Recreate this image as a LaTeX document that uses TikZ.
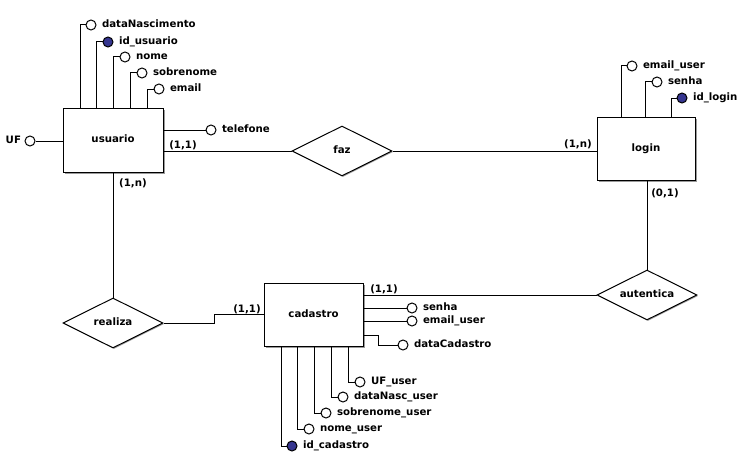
\documentclass[tikz,border=0pt]{standalone}
\usepackage{fontspec}
\setmainfont{DejaVu Sans}
\usetikzlibrary{shapes.geometric,shadows,calc}
\definecolor{keyblue}{HTML}{35358F}
\definecolor{shadowgray}{HTML}{9A9A9A}
\tikzset{
  every picture/.style={line width=1pt},
  txt/.style={font=\bfseries\fontsize{10.2}{12}\selectfont, inner sep=0pt, text height=7.5pt, text depth=2pt},
  entity/.style={draw, fill=white, rectangle, inner sep=0pt, txt,
    drop shadow={shadow xshift=1.6pt, shadow yshift=-1.6pt, opacity=1, fill=shadowgray}},
  relation/.style={draw, fill=white, diamond, aspect=2, inner sep=0pt, txt,
    minimum width=100pt, minimum height=50pt,
    drop shadow={shadow xshift=1pt, shadow yshift=-1pt, opacity=1, fill=shadowgray}},
  attr/.style={draw, fill=white, circle, minimum size=10pt, inner sep=0pt},
  keyattr/.style={attr, fill=keyblue},
  attrname/.style={txt, anchor=west, xshift=5pt},
  ufname/.style={txt, anchor=east, xshift=-3pt},
  card/.style={txt},
}
\begin{document}
\begin{tikzpicture}[x=1pt, y=-1pt]
\useasboundingbox (0,0) rectangle (747,460);
\fill[white] (0,0) rectangle (747,460);

% entities
\node[entity, minimum width=100pt, minimum height=64pt] (usuario) at (113,140) {usuario};
\node[entity, minimum width=98pt, minimum height=63pt] (login) at (646,148.5) {login};
\node[entity, minimum width=99pt, minimum height=63pt] (cadastro) at (313.5,314.5) {cadastro};

% relationships
\node[relation] (faz) at (342,151) {faz};
\node[relation] (autentica) at (647,295) {autentica};
\node[relation] (realiza) at (113,323) {realiza};

% usuario attributes
\node[attr, label={[attrname]right:dataNascimento}] (ua1) at (91,25) {};
\node[keyattr, label={[attrname]right:id\_usuario}] (ua2) at (108,42) {};
\node[attr, label={[attrname]right:nome}] (ua3) at (125,57) {};
\node[attr, label={[attrname]right:sobrenome}] (ua4) at (142,73) {};
\node[attr, label={[attrname]right:email}] (ua5) at (159,89) {};
\node[attr, label={[attrname]right:telefone}] (ua6) at (211,130) {};
\node[attr, label={[ufname]left:UF}] (ua7) at (30,141) {};

\draw ($(usuario.north west)+(18,0)$) |- (ua1);
\draw ($(usuario.north west)+(34,0)$) |- (ua2);
\draw ($(usuario.north west)+(51,0)$) |- (ua3);
\draw ($(usuario.north west)+(68,0)$) |- (ua4);
\draw ($(usuario.north west)+(85,0)$) |- (ua5);
\draw (ua6 -| usuario.east) -- (ua6);
\draw (ua7) -- (ua7 -| usuario.west);

% login attributes
\node[attr, label={[attrname]right:email\_user}] (la1) at (632,66) {};
\node[attr, label={[attrname]right:senha}] (la2) at (657,82) {};
\node[keyattr, label={[attrname]right:id\_login}] (la3) at (682,98) {};
\draw ($(login.north west)+(25,0)$) |- (la1);
\draw ($(login.north west)+(49,0)$) |- (la2);
\draw ($(login.north west)+(75,0)$) |- (la3);

% cadastro attributes
\node[attr, label={[attrname]right:senha}] (ca1) at (412,308) {};
\node[attr, label={[attrname]right:email\_user}] (ca2) at (412,321) {};
\node[attr, label={[attrname]right:dataCadastro}] (ca3) at (403,345) {};
\node[attr, label={[attrname]right:UF\_user}] (ca4) at (360,382) {};
\node[attr, label={[attrname]right:dataNasc\_user}] (ca5) at (343,397) {};
\node[attr, label={[attrname]right:sobrenome\_user}] (ca6) at (326,413) {};
\node[attr, label={[attrname]right:nome\_user}] (ca7) at (309,429) {};
\node[keyattr, label={[attrname]right:id\_cadastro}] (ca8) at (292,446) {};

\draw (ca1 -| cadastro.east) -- (ca1);
\draw (ca2 -| cadastro.east) -- (ca2);
\draw ($(cadastro.north east)+(0,53)$) -| ($(ca3.west)+(-19,0)$) -- (ca3);
\draw ($(cadastro.south west)+(85,0)$) |- (ca4);
\draw ($(cadastro.south west)+(68,0)$) |- (ca5);
\draw ($(cadastro.south west)+(51,0)$) |- (ca6);
\draw ($(cadastro.south west)+(34,0)$) |- (ca7);
\draw ($(cadastro.south west)+(18,0)$) |- (ca8);

% relationship connectors
\draw (faz.west -| usuario.east) -- (faz.west);
\draw (faz.east) -- (faz.east -| login.west);
\draw (autentica.north) -- (autentica.north |- login.south);
\draw (autentica.west) -- (autentica.west -| cadastro.east);
\draw (realiza.north) -- (realiza.north |- usuario.south);
\draw (realiza.east) -- ++(51,0) |- (cadastro.west);

% cardinalities
\node[card] (c1) at (183,146) {(1,1)};
\node[card] (c2) at (578,145) {(1,n)};
\node[card] (c3) at (665,194) {(0,1)};
\node[card] (c4) at (133,184) {(1,n)};
\node[card] (c5) at (247,310) {(1,1)};
\node[card] (c6) at (384,290) {(1,1)};
\end{tikzpicture}
\end{document}
